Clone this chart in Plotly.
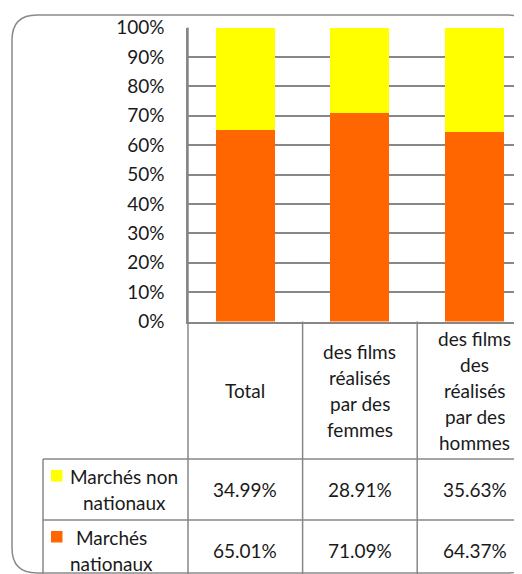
import plotly.graph_objects as go

# categories (header cells of the data table)
categories = ["Total",
              "des films<br>réalisés<br>par des<br>femmes",
              "des films<br>des<br>réalisés<br>par des<br>hommes"]
series_names = ["Marchés non<br>nationaux", "Marchés<br>nationaux"]
non_nationaux = [34.99, 28.91, 35.63]
nationaux = [65.01, 71.09, 64.37]
y_ticks = [0, 10, 20, 30, 40, 50, 60, 70, 80, 90, 100]

# page is offset by the 8px body margin, so the figure is a bit smaller
OFF = 8
W, H = 522 - OFF, 574 - OFF
FONT = "Lato"
GRID = "#878787"
YELLOW = "#FFFF00"
ORANGE = "#FF6600"


def px(x):
    return (x - OFF) / W


def py(y):
    return 1 - (y - OFF) / H


cat_w = 114.6
left = 188
x_idx = list(range(len(categories)))

fig = go.Figure()
# stacked bars: nationaux at bottom, non nationaux on top
fig.add_trace(go.Bar(x=x_idx, y=[v / 100 for v in nationaux], width=0.515,
                     marker=dict(color=ORANGE, line=dict(width=0)),
                     name=series_names[1].replace("<br>", " ")))
fig.add_trace(go.Bar(x=x_idx, y=[v / 100 for v in non_nationaux], width=0.515,
                     marker=dict(color=YELLOW, line=dict(width=0)),
                     name=series_names[0].replace("<br>", " ")))

shapes = []
ann = []

# rounded frame of the chart
r = 25
x0, x1, y0, y1 = 12, 533, 15, 573
path = (f"M {px(x0 + r)},{py(y0)} L {px(x1 - r)},{py(y0)} "
        f"Q {px(x1)},{py(y0)} {px(x1)},{py(y0 + r)} L {px(x1)},{py(y1 - r)} "
        f"Q {px(x1)},{py(y1)} {px(x1 - r)},{py(y1)} L {px(x0 + r)},{py(y1)} "
        f"Q {px(x0)},{py(y1)} {px(x0)},{py(y1 - r)} L {px(x0)},{py(y0 + r)} "
        f"Q {px(x0)},{py(y0)} {px(x0 + r)},{py(y0)} Z")
shapes.append(dict(type="path", path=path, xref="paper", yref="paper",
                   line=dict(color="#8a8a8a", width=1.5), layer="below"))

# data table lines
tl = dict(color=GRID, width=1.5)
col_x = [left + i * cat_w for i in range(len(categories) + 1)]
shapes.append(dict(type="line", xref="paper", yref="paper", x0=px(left), x1=px(left),
                   y0=py(27.5), y1=py(580), line=tl))
for cx in col_x[1:]:
    shapes.append(dict(type="line", xref="paper", yref="paper", x0=px(cx), x1=px(cx),
                       y0=py(321.5), y1=py(580), line=tl))
shapes.append(dict(type="line", xref="paper", yref="paper", x0=px(43), x1=px(43),
                   y0=py(459), y1=py(580), line=tl))
for ry in [459, 520]:
    shapes.append(dict(type="line", xref="paper", yref="paper", x0=px(43), x1=px(540),
                       y0=py(ry), y1=py(ry), line=tl))

font = dict(family=FONT, size=19, color="#1a1a1a")

# header cells
for i, cat in enumerate(categories):
    lines = cat.split("<br>")
    n = len(lines)
    for j, t in enumerate(lines):
        yy = 390 + (j - (n - 1) / 2) * 26
        ann.append(dict(x=i, xref="x", y=py(yy), yref="paper", text=t, showarrow=False,
                        xanchor="center", yanchor="middle", font=font))

# value rows
rows = [(non_nationaux, YELLOW, 489.5, 124), (nationaux, ORANGE, 550.5, 111)]
for k, (vals, col, cy, lx) in enumerate(rows):
    for i, v in enumerate(vals):
        ann.append(dict(x=i, xref="x", y=py(cy), yref="paper", text=f"{v:.2f}%",
                        showarrow=False, xanchor="center", yanchor="middle", font=font))
    lines = series_names[k].split("<br>")
    for j, t in enumerate(lines):
        yy = cy + (j - 0.5) * 26
        ann.append(dict(x=px(lx), xref="paper", y=py(yy), yref="paper", text=t,
                        showarrow=False, xanchor="center", yanchor="middle", font=font))
    ky = cy - 19.5
    shapes.append(dict(type="rect", xref="paper", yref="paper", x0=px(51), x1=px(62.5),
                       y0=py(ky), y1=py(ky + 11.5), fillcolor=col, line=dict(width=0)))

fig.update_layout(
    width=W, height=H,
    margin=dict(l=0, r=0, t=0, b=0),
    paper_bgcolor="white", plot_bgcolor="white",
    barmode="stack", showlegend=False,
    font=font,
    shapes=shapes, annotations=ann,
    xaxis=dict(domain=[px(left), 1], range=[-0.5, -0.5 + (522 - left) / cat_w],
               showticklabels=False, showgrid=False, zeroline=False, automargin=False,
               showline=True, linecolor=GRID, linewidth=1.5, ticks=""),
    yaxis=dict(domain=[py(321.5), py(27.5)], range=[0, 1], automargin=False,
               tickvals=[t / 100 for t in y_ticks], ticktext=[f"{t}%" for t in y_ticks],
               showgrid=True, gridcolor=GRID, gridwidth=1.5, zeroline=False,
               showline=True, linecolor=GRID, linewidth=1.5, ticks="",
               ticklabelstandoff=18, tickfont=font),
)

fig.write_html("out.html")
